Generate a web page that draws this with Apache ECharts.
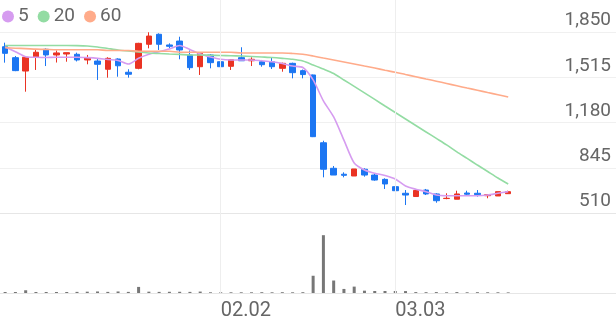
<!DOCTYPE html>
<html><head><meta charset="utf-8">
<script src="https://cdn.jsdelivr.net/npm/echarts@6/dist/echarts.min.js"></script>
<style>html,body{margin:0;padding:0;background:#fff}#c{width:616px;height:321px}</style>
</head><body><div id="c"></div>
<script>
const dates = ['01.02','01.05','01.06','01.07','01.08','01.09','01.12','01.13','01.14','01.15','01.16','01.19','01.20','01.21','01.22','01.23','01.26','01.27','01.28','01.29','01.30',
'02.02','02.03','02.04','02.05','02.06','02.09','02.10','02.11','02.12','02.13','02.19','02.20','02.23','02.24','02.25','02.26','02.27',
'03.03','03.04','03.05','03.06','03.09','03.10','03.11','03.12','03.13','03.16','03.17','03.18'];
const opens  = [1741,1660,1561,1663,1722,1680,1687,1685,1643,1635,1574,1650,1552,1581,1759,1833,1754,1783,1680,1593,1680,1630,1596,1660,1637,1630,1630,1581,1618,1564,1532,1030,841,797,784,834,791,759,705,656,632,680,651,617,612,658,656,638,636,653];
const closes = [1692,1564,1663,1700,1680,1695,1697,1643,1660,1611,1655,1600,1537,1766,1820,1759,1744,1717,1586,1692,1623,1593,1645,1637,1648,1608,1593,1618,1549,1535,1075,834,791,789,836,791,754,725,675,643,677,651,601,619,651,649,646,646,668,668];
const lows   = [1623,1560,1408,1569,1598,1624,1630,1632,1611,1495,1512,1519,1512,1574,1729,1717,1729,1648,1569,1532,1581,1581,1569,1637,1598,1593,1576,1556,1507,1507,1072,774,791,774,784,779,749,688,660,569,631,643,586,612,612,636,631,619,636,651];
const highs  = [1771,1672,1672,1717,1729,1713,1697,1697,1680,1655,1663,1655,1574,1770,1848,1840,1766,1815,1713,1695,1687,1637,1648,1737,1663,1643,1663,1623,1623,1572,1535,1045,858,811,836,841,799,767,712,680,688,688,656,656,675,675,680,646,668,675];
const ma5  = [1740,1704,1667,1663,1661,1663,1663,1663,1660,1655,1646,1639,1613,1655,1685,1704,1724,1750,1720,1687,1665,1648,1643,1643,1643,1637,1630,1617,1598,1587,1495,1340,1221,1050,880,828,804,788,762,710,686,668,643,638,638,638,638,643,656,668];
const ma20 = [1750,1750,1750,1750,1750,1750,1750,1749,1746,1739,1728,1717,1709,1702,1695,1691,1687,1684,1680,1680,1678,1676,1674,1672,1669,1665,1661,1655,1648,1635,1606,1576,1543,1495,1447,1399,1351,1302,1254,1206,1158,1110,1062,1014,962,914,865,817,769,725];
const ma60 = [1734,1730,1727,1723,1721,1719,1719,1719,1719,1719,1713,1713,1713,1707,1707,1707,1707,1700,1700,1700,1700,1700,1700,1695,1695,1695,1695,1695,1691,1685,1672,1657,1643,1628,1613,1598,1583,1567,1552,1535,1519,1502,1486,1469,1452,1435,1419,1402,1386,1369];
const volumes = [100,100,270,100,100,100,100,110,130,150,110,150,110,600,130,110,120,120,110,140,70,70,70,70,70,80,70,80,70,80,1700,5700,1230,400,630,230,200,200,200,190,90,80,90,70,90,70,80,70,70,60];
const yTicks = [510,845,1180,1515,1850];
const xTickLabels = ['02.02','03.03'];
const slotCount = 60;

const candleData = dates.map((d,i)=>[opens[i],closes[i],lows[i],highs[i]]);
const font = 'Roboto, "Noto Sans", sans-serif';
const chart = echarts.init(document.getElementById('c'));
const catAxis = (gi, extra) => Object.assign({
  type:'category', gridIndex:gi, data:dates, max:slotCount-1, boundaryGap:true,
  axisTick:{show:false}, axisLabel:{show:false}, splitLine:{show:false},
  axisLine:{show:false}
}, extra||{});
chart.setOption({
  animation:false,
  backgroundColor:'#fff',
  legend:{
    data:['5','20','60'], left:0, top:5, icon:'circle', itemWidth:12, itemHeight:12, itemGap:9,
    textStyle:{fontSize:19, color:'#666', fontFamily:font, padding:[0,0,0,-1]}, padding:[2,2]
  },
  grid:[
    {left:0,right:0,top:32,bottom:108},
    {left:0,right:0,top:222,bottom:28},
    {left:0,right:0,top:0,bottom:28}
  ],
  xAxis:[
    catAxis(0,{axisLine:{show:true,lineStyle:{color:'#e6e6e6'}}}),
    catAxis(1,{axisLine:{show:true,lineStyle:{color:'#e6e6e6'}}}),
    catAxis(2,{axisLabel:{show:true, interval:(i,v)=>xTickLabels.includes(v), align:'left', margin:8,
      fontSize:20, color:'#666', fontFamily:font}})
  ],
  yAxis:[
    {type:'value', gridIndex:0, position:'right', min:yTicks[0], max:yTicks[yTicks.length-1], interval:yTicks[1]-yTicks[0],
     axisLine:{show:false}, axisTick:{show:false},
     splitLine:{lineStyle:{color:'#f0f0f0'}},
     axisLabel:{inside:true, margin:5, fontSize:19, color:'#666', fontFamily:font, verticalAlign:'bottom', padding:[0,0,2,0],
       formatter:v=>yTicks.includes(v)? v.toLocaleString('en-US') : ''}},
    {type:'value', gridIndex:1, min:0, max:7000, show:false},
    {type:'value', gridIndex:2, min:0, max:1, show:false}
  ],
  series:[
    {type:'line', xAxisIndex:2, yAxisIndex:2, data:[], z:0, silent:true,
     markLine:{silent:true, symbol:['none','none'], label:{show:false},
       lineStyle:{color:'#eeeeee', type:'solid', width:1},
       data: xTickLabels.map(l=>({xAxis: dates.indexOf(l)}))}},
    {type:'candlestick', xAxisIndex:0, yAxisIndex:0, data:candleData, barWidth:6,
     itemStyle:{color:'#ea3323', color0:'#1c76f2', borderColor:'#ea3323', borderColor0:'#1c76f2', borderWidth:1}},
    {name:'5', type:'line', xAxisIndex:0, yAxisIndex:0, data:ma5, showSymbol:false, smooth:0.25,
     lineStyle:{color:'#d69cf0', width:1.6}, itemStyle:{color:'#d69cf0'}},
    {name:'20', type:'line', xAxisIndex:0, yAxisIndex:0, data:ma20, showSymbol:false, smooth:0.25,
     lineStyle:{color:'#93dca3', width:1.6}, itemStyle:{color:'#93dca3'}},
    {name:'60', type:'line', xAxisIndex:0, yAxisIndex:0, data:ma60, showSymbol:false, smooth:0.25,
     lineStyle:{color:'#ffab8a', width:1.6}, itemStyle:{color:'#ffab8a'}},
    {type:'bar', xAxisIndex:1, yAxisIndex:1, data:volumes, barWidth:3, itemStyle:{color:'#777777'}}
  ]
});
</script></body></html>
